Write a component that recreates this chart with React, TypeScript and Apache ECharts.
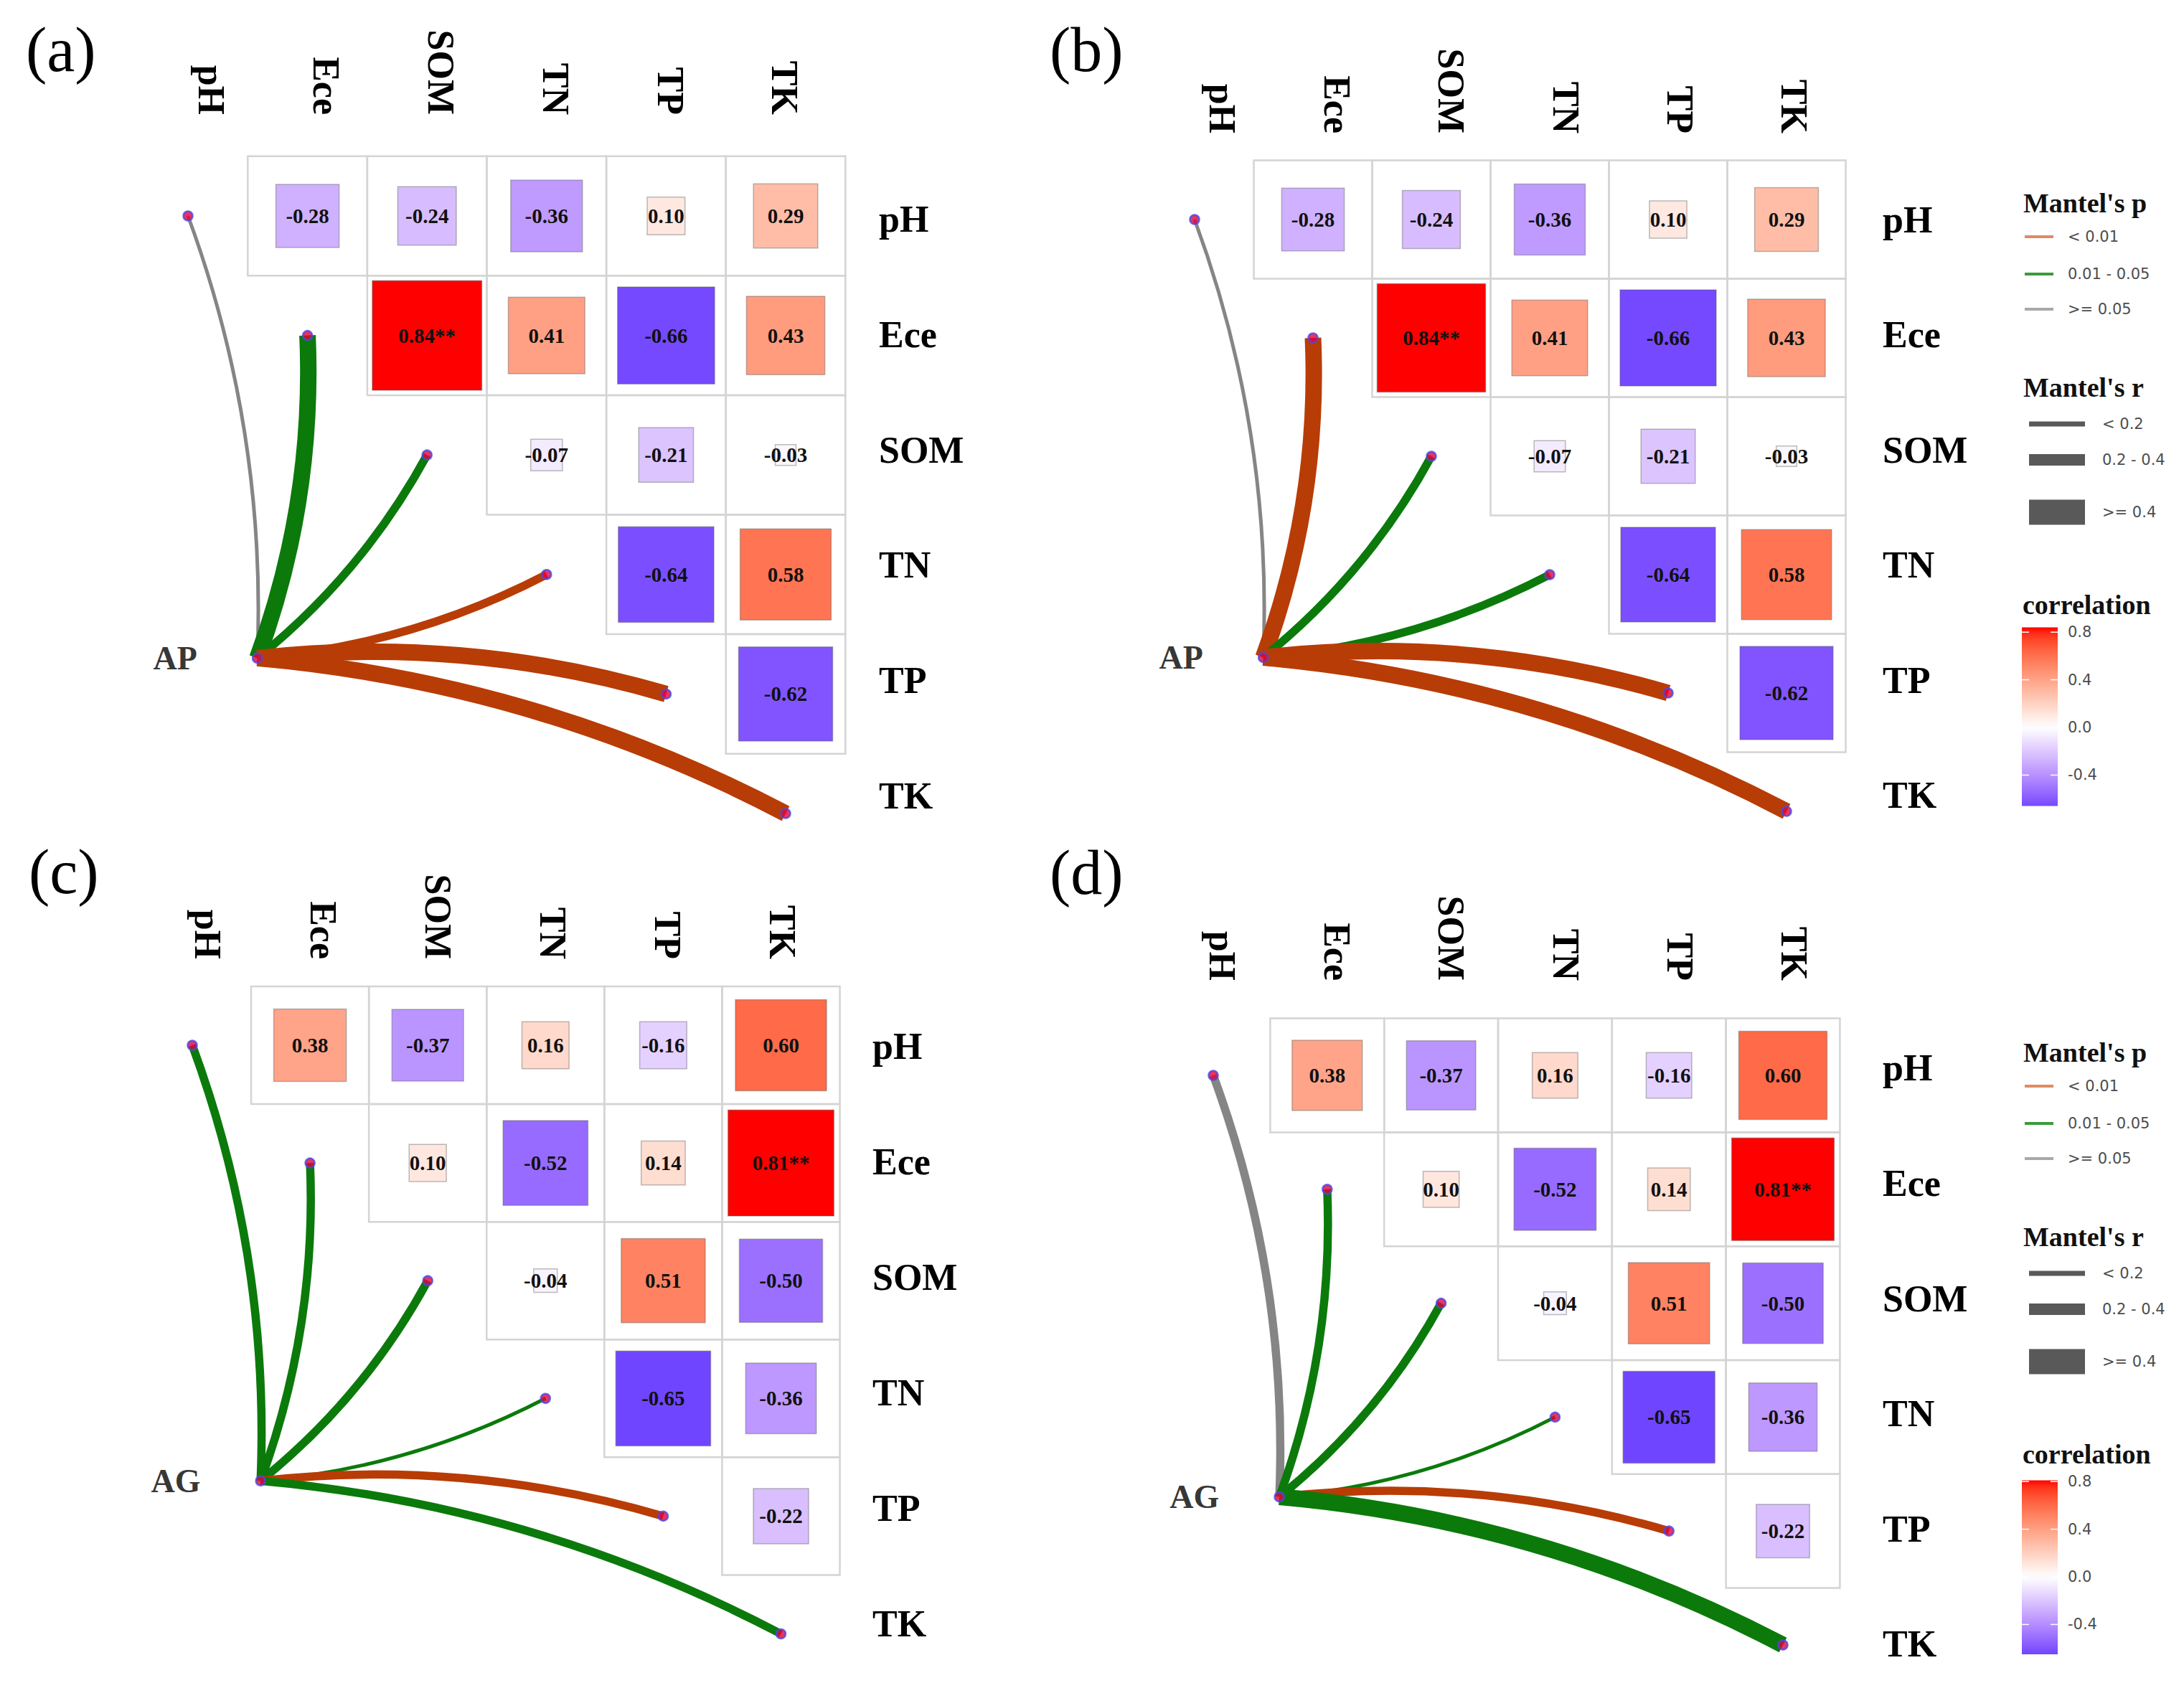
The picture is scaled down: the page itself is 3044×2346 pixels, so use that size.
import React, { useEffect, useRef } from "react";
import * as echarts from "echarts";

// ---------------- data ----------------
const VARS = ["pH", "Ece", "SOM", "TN", "TP", "TK"];

// upper triangle (row i -> columns i+1..5)
const CORR_AP = [
  [-0.28, -0.24, -0.36, 0.1, 0.29],
  [0.84, 0.41, -0.66, 0.43],
  [-0.07, -0.21, -0.03],
  [-0.64, 0.58],
  [-0.62],
];
const STARS_AP = [
  ["", "", "", "", ""],
  ["**", "", "", ""],
  ["", "", ""],
  ["", ""],
  [""],
];
const CORR_AG = [
  [0.38, -0.37, 0.16, -0.16, 0.6],
  [0.1, -0.52, 0.14, 0.81],
  [-0.04, 0.51, -0.5],
  [-0.65, -0.36],
  [-0.22],
];
const STARS_AG = [
  ["", "", "", "", ""],
  ["", "", "", "**"],
  ["", "", ""],
  ["", ""],
  [""],
];

const P_LEVELS = ["< 0.01", "0.01 - 0.05", ">= 0.05"];
const R_LEVELS = ["< 0.2", "0.2 - 0.4", ">= 0.4"];

// Mantel test classes per soil variable (pH, Ece, SOM, TN, TP, TK)
const MANTEL_P_A = [">= 0.05", "0.01 - 0.05", "0.01 - 0.05", "< 0.01", "< 0.01", "< 0.01"];
const MANTEL_R_A = ["< 0.2", ">= 0.4", "0.2 - 0.4", "0.2 - 0.4", ">= 0.4", ">= 0.4"];
const MANTEL_P_B = [">= 0.05", "< 0.01", "0.01 - 0.05", "0.01 - 0.05", "< 0.01", "< 0.01"];
const MANTEL_R_B = ["< 0.2", ">= 0.4", "0.2 - 0.4", "0.2 - 0.4", ">= 0.4", ">= 0.4"];
const MANTEL_P_C = ["0.01 - 0.05", "0.01 - 0.05", "0.01 - 0.05", "0.01 - 0.05", "< 0.01", "0.01 - 0.05"];
const MANTEL_R_C = ["0.2 - 0.4", "0.2 - 0.4", "0.2 - 0.4", "< 0.2", "0.2 - 0.4", "0.2 - 0.4"];
const MANTEL_P_D = [">= 0.05", "0.01 - 0.05", "0.01 - 0.05", "0.01 - 0.05", "< 0.01", "0.01 - 0.05"];
const MANTEL_R_D = ["0.2 - 0.4", "0.2 - 0.4", "0.2 - 0.4", "< 0.2", "0.2 - 0.4", ">= 0.4"];

const COLORBAR_TICKS = [0.8, 0.4, 0.0, -0.4];

// ---------------- styles / layout ----------------
const SERIF = "'Liberation Serif', 'Times New Roman', serif";
const SANS = "'DejaVu Sans', Verdana, sans-serif";
const P_COLORS = ["#B83C06", "#0B7A0B", "#858585"];
const P_LEGEND_COLORS = ["#E08A62", "#3B9B3B", "#A8A8A8"];
const R_WIDTHS = [5, 11.5, 23];
const R_LEGEND_WIDTHS = [7, 16, 35];
const CURV = 0.1;
const ENV_POS = [0.58, 3.7];

const PANELS = [
  { letter: "(a)", lx: 36, ly: 69, ox: 262, oy: 301, unit: 166.6, cu0: 0.198, cr: 0.959, rv0: 0.03, rr: 0.964, colBottom: 160, rowLeft: 1225,
    corr: CORR_AP, stars: STARS_AP, env: "AP", mp: MANTEL_P_A, mr: MANTEL_R_A, legendY: null as number | null },
  { letter: "(b)", lx: 1463, ly: 69, ox: 1665, oy: 306, unit: 165, cu0: 0.236, cr: 0.966, rv0: 0.0, rr: 0.973, colBottom: 186, rowLeft: 2624,
    corr: CORR_AP, stars: STARS_AP, env: "AP", mp: MANTEL_P_B, mr: MANTEL_R_B, legendY: 283 },
  { letter: "(c)", lx: 40, ly: 1215, ox: 268, oy: 1457, unit: 164.1, cu0: 0.134, cr: 0.976, rv0: 0.01, rr: 0.981, colBottom: 1337, rowLeft: 1216,
    corr: CORR_AG, stars: STARS_AG, env: "AG", mp: MANTEL_P_C, mr: MANTEL_R_C, legendY: null },
  { letter: "(d)", lx: 1463, ly: 1216, ox: 1691, oy: 1499, unit: 158.8, cu0: 0.08, cr: 1.004, rv0: -0.063, rr: 1.011, colBottom: 1367, rowLeft: 2624,
    corr: CORR_AG, stars: STARS_AG, env: "AG", mp: MANTEL_P_D, mr: MANTEL_R_D, legendY: 1467 },
];

// ---------------- colour (Lab interpolation like ggplot gradient2) ----------------
const XN = 0.95047, YN = 1.0, ZN = 1.08883;
function toLin(c: number) { c /= 255; return c <= 0.04045 ? c / 12.92 : Math.pow((c + 0.055) / 1.055, 2.4); }
function fromLin(c: number) {
  const v = c <= 0.0031308 ? 12.92 * c : 1.055 * Math.pow(Math.max(c, 0), 1 / 2.4) - 0.055;
  return Math.round(Math.max(0, Math.min(1, v)) * 255);
}
function fl(t: number) { return t > 216 / 24389 ? Math.cbrt(t) : ((24389 / 27) * t + 16) / 116; }
function flInv(t: number) { const t3 = t * t * t; return t3 > 216 / 24389 ? t3 : (116 * t - 16) / (24389 / 27); }
function hexToLab(hex: string) {
  const r = toLin(parseInt(hex.slice(1, 3), 16)), g = toLin(parseInt(hex.slice(3, 5), 16)), b = toLin(parseInt(hex.slice(5, 7), 16));
  const X = 0.4124564 * r + 0.3575761 * g + 0.1804375 * b;
  const Y = 0.2126729 * r + 0.7151522 * g + 0.072175 * b;
  const Z = 0.0193339 * r + 0.119192 * g + 0.9503041 * b;
  const fx = fl(X / XN), fy = fl(Y / YN), fz = fl(Z / ZN);
  return [116 * fy - 16, 500 * (fx - fy), 200 * (fy - fz)];
}
function labToCss(L: number, a: number, b: number) {
  const fy = (L + 16) / 116, fx = fy + a / 500, fz = fy - b / 200;
  const X = XN * flInv(fx), Y = YN * flInv(fy), Z = ZN * flInv(fz);
  const r = 3.2404542 * X - 1.5371385 * Y - 0.4985314 * Z;
  const g = -0.969266 * X + 1.8760108 * Y + 0.041556 * Z;
  const bb = 0.0556434 * X - 0.2040259 * Y + 1.0572252 * Z;
  return `rgb(${fromLin(r)},${fromLin(g)},${fromLin(bb)})`;
}
const LAB_LOW = hexToLab("#0000FF");
const LAB_MID = hexToLab("#FFFFFF");
const LAB_HIGH = hexToLab("#FF0000");
function corrColor(v: number, maxAbs: number) {
  let t = v / maxAbs;
  t = Math.max(-1, Math.min(1, t));
  const end = t >= 0 ? LAB_HIGH : LAB_LOW;
  const k = Math.abs(t);
  return labToCss(
    LAB_MID[0] + (end[0] - LAB_MID[0]) * k,
    LAB_MID[1] + (end[1] - LAB_MID[1]) * k,
    LAB_MID[2] + (end[2] - LAB_MID[2]) * k
  );
}

function flat(m: number[][]) { const out: number[] = []; m.forEach((r) => r.forEach((v) => out.push(v))); return out; }

// ---------------- legend ----------------
function legendElements(x0: number, y0: number, corr: number[][]) {
  const els: any[] = [];
  const title = (t: string, x: number, y: number) => ({
    type: "text", x, y,
    style: { text: t, fontSize: 38, fontWeight: "bold", fontFamily: SERIF, fill: "#111", align: "left", verticalAlign: "middle" },
  });
  const item = (t: string, x: number, y: number) => ({
    type: "text", x, y,
    style: { text: t, fontSize: 21, fontFamily: SANS, fill: "#4D4D4D", align: "left", verticalAlign: "middle" },
  });
  els.push(title("Mantel's p", x0, y0));
  const pY = [47, 99, 148];
  P_LEVELS.forEach((lab, k) => {
    els.push({ type: "line", shape: { x1: x0 + 2, y1: y0 + pY[k], x2: x0 + 42, y2: y0 + pY[k] }, style: { stroke: P_LEGEND_COLORS[k], lineWidth: 4 } });
    els.push(item(lab, x0 + 62, y0 + pY[k]));
  });
  els.push(title("Mantel's r", x0, y0 + 257));
  const rY = [308, 358, 431];
  R_LEVELS.forEach((lab, k) => {
    els.push({ type: "line", shape: { x1: x0 + 8, y1: y0 + rY[k], x2: x0 + 86, y2: y0 + rY[k] }, style: { stroke: "#595959", lineWidth: R_LEGEND_WIDTHS[k], lineCap: "butt" } });
    els.push(item(lab, x0 + 110, y0 + rY[k]));
  });
  els.push(title("correlation", x0 - 1, y0 + 560));
  const vals = flat(corr);
  const mn = Math.min(...vals), mx = Math.max(...vals);
  const maxAbs = Math.max(Math.abs(mn), Math.abs(mx));
  const zeroY = y0 + 731, pxPer = 166;
  const top = zeroY - mx * pxPer, bot = zeroY - mn * pxPer;
  const stops: any[] = [];
  for (let k = 0; k <= 30; k++) {
    const v = mx - ((mx - mn) * k) / 30;
    stops.push({ offset: k / 30, color: corrColor(v, maxAbs) });
  }
  els.push({
    type: "rect", shape: { x: x0 - 2, y: top, width: 50, height: bot - top },
    style: { fill: new echarts.graphic.LinearGradient(0, 0, 0, 1, stops) },
  });
  COLORBAR_TICKS.forEach((v) => {
    const y = zeroY - v * pxPer;
    els.push({ type: "line", shape: { x1: x0 - 2, y1: y, x2: x0 + 8, y2: y }, style: { stroke: "#ffffff", lineWidth: 1.5 } });
    els.push({ type: "line", shape: { x1: x0 + 38, y1: y, x2: x0 + 48, y2: y }, style: { stroke: "#ffffff", lineWidth: 1.5 } });
    els.push(item(v.toFixed(1), x0 + 62, y));
  });
  return els;
}

// ---------------- option ----------------
function buildOption() {
  const grids: any[] = [];
  const xAxes: any[] = [];
  const yAxes: any[] = [];
  const series: any[] = [];
  const graphics: any[] = [];

  PANELS.forEach((P, p) => {
    const xMin = P.cu0 - P.cr / 2, xMax = xMin + 6 * P.cr;
    const yMin = P.rv0 - P.rr / 2, yMax = yMin + 6 * P.rr;
    const gLeft = P.ox + xMin * P.unit, gWidth = 6 * P.cr * P.unit;
    const gTop = P.oy + yMin * P.unit, gHeight = 6 * P.rr * P.unit;
    grids.push({ left: gLeft, top: gTop, width: gWidth, height: gHeight, containLabel: false, outerBoundsMode: "none", show: false });

    const axLabel = { fontSize: 52, fontWeight: "bold", fontFamily: SERIF, color: "#000", interval: 0 };
    xAxes.push({ type: "value", gridIndex: p, min: xMin, max: xMax, show: false, position: "bottom" });
    xAxes.push({
      type: "category", gridIndex: p, position: "top", data: VARS,
      axisLine: { show: false }, axisTick: { show: false }, splitLine: { show: false },
      axisLabel: { ...axLabel, rotate: 90, margin: gTop - P.colBottom },
    });
    yAxes.push({ type: "value", gridIndex: p, min: yMin, max: yMax, inverse: true, show: false, position: "left" });
    yAxes.push({
      type: "category", gridIndex: p, position: "right", inverse: true, data: VARS,
      axisLine: { show: false }, axisTick: { show: false }, splitLine: { show: false },
      axisLabel: { ...axLabel, align: "left", margin: P.rowLeft - (gLeft + gWidth) },
    });

    const xi = 2 * p, yi = 2 * p;
    const vals = flat(P.corr);
    const maxAbs = Math.max(...vals.map((v) => Math.abs(v)));

    // correlation cells
    const cells: { i: number; j: number; r: number; s: string }[] = [];
    P.corr.forEach((row, j) => row.forEach((r, k) => cells.push({ i: j + 1 + k, j, r, s: P.stars[j][k] })));
    series.push({
      type: "custom", coordinateSystem: "cartesian2d", xAxisIndex: xi, yAxisIndex: yi, z: 2, clip: false,
      data: cells.map((c) => [c.i, c.j, c.r]),
      renderItem: (params: any, api: any) => {
        const c = cells[params.dataIndex];
        const ctr = api.coord([api.value(0), api.value(1)]);
        const sz = api.size([1, 1]);
        const w = Math.abs(sz[0]), h = Math.abs(sz[1]);
        const side = Math.sqrt(Math.abs(api.value(2)));
        return {
          type: "group",
          children: [
            { type: "rect", shape: { x: ctr[0] - w / 2, y: ctr[1] - h / 2, width: w, height: h }, style: { fill: "none", stroke: "#D4D4D4", lineWidth: 2.5 } },
            {
              type: "rect", shape: { x: ctr[0] - (w * side) / 2, y: ctr[1] - (h * side) / 2, width: w * side, height: h * side },
              style: { fill: corrColor(c.r, maxAbs), stroke: "rgba(90,90,90,0.4)", lineWidth: 1.5 },
            },
            {
              type: "text",
              style: { text: c.r.toFixed(2) + c.s, x: ctr[0], y: ctr[1], align: "center", verticalAlign: "middle", fontSize: 29, fontWeight: "bold", fontFamily: SERIF, fill: "#111" },
            },
          ],
        };
      },
    });

    // Mantel links
    const links = VARS.map((_, k) => [ENV_POS[0], ENV_POS[1], k, P_LEVELS.indexOf(P.mp[k]), R_LEVELS.indexOf(P.mr[k])]);
    series.push({
      type: "custom", coordinateSystem: "cartesian2d", xAxisIndex: xi, yAxisIndex: yi, z: 3, clip: false,
      data: links,
      renderItem: (params: any, api: any) => {
        const p0 = api.coord([api.value(0), api.value(1)]);
        const k = api.value(2);
        const p1 = api.coord([k, k]);
        const dx = p1[0] - p0[0], dy = p1[1] - p0[1];
        const L = Math.hypot(dx, dy);
        const s = dy < 0 ? 1 : -1;
        const nx = (s * -dy) / L, ny = (s * dx) / L;
        const hh = CURV * L;
        return {
          type: "bezierCurve",
          shape: { x1: p0[0], y1: p0[1], x2: p1[0], y2: p1[1], cpx1: (p0[0] + p1[0]) / 2 + nx * hh, cpy1: (p0[1] + p1[1]) / 2 + ny * hh },
          style: { stroke: P_COLORS[api.value(3)], lineWidth: R_WIDTHS[api.value(4)], fill: "none", lineCap: "butt" },
        };
      },
    });

    // nodes
    const nodeStyle = { color: "#E4003C", borderColor: "#4A4AE6", borderWidth: 2.5 };
    series.push({
      type: "scatter", xAxisIndex: xi, yAxisIndex: yi, z: 4, symbolSize: 13, itemStyle: nodeStyle,
      data: VARS.map((_, k) => [k, k]),
    });
    series.push({
      type: "scatter", xAxisIndex: xi, yAxisIndex: yi, z: 4, symbolSize: 13, itemStyle: nodeStyle,
      data: [{ value: ENV_POS, name: P.env }],
      label: { show: true, position: "left", distance: 76, formatter: P.env, fontSize: 46, fontWeight: "bold", fontFamily: SERIF, color: "#000" },
    });

    // panel letter
    graphics.push({
      type: "text", x: P.lx, y: P.ly,
      style: { text: P.letter, fontSize: 88, fontFamily: SERIF, fill: "#000", align: "left", verticalAlign: "middle" },
    });
    if (P.legendY !== null) legendElements(2820, P.legendY as number, P.corr).forEach((e) => graphics.push(e));
  });

  return {
    animation: false,
    backgroundColor: "#ffffff",
    grid: grids,
    xAxis: xAxes,
    yAxis: yAxes,
    series,
    graphic: { elements: graphics },
  };
}

export default function App() {
  const ref = useRef<HTMLDivElement>(null);
  useEffect(() => {
    const chart = echarts.init(ref.current as HTMLDivElement, null, { renderer: "svg" });
    chart.setOption(buildOption() as any);
    return () => chart.dispose();
  }, []);
  return <div ref={ref} style={{ position: "absolute", left: 0, top: 0, width: 3044, height: 2346, background: "#fff" }} />;
}
